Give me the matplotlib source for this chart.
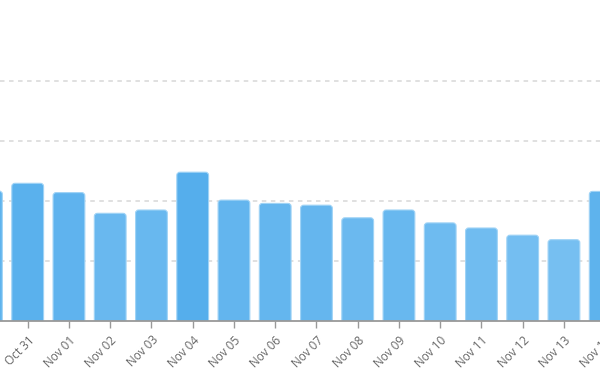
import matplotlib.pyplot as plt
from matplotlib.patches import FancyBboxPatch
from matplotlib.colors import LinearSegmentedColormap, Normalize
from matplotlib.transforms import offset_copy

days = ["Oct 30", "Oct 31", "Nov 01", "Nov 02", "Nov 03", "Nov 04", "Nov 05", "Nov 06",
        "Nov 07", "Nov 08", "Nov 09", "Nov 10", "Nov 11", "Nov 12", "Nov 13", "Nov 14"]
values = [43.3, 45.9, 42.8, 35.9, 37.0, 49.6, 40.3, 39.2,
          38.6, 34.4, 37.0, 32.7, 31.0, 28.6, 27.1, 43.2]
grid_ticks = [20, 40, 60, 80]

plt.rcParams['font.family'] = ['Open Sans', 'DejaVu Sans']

fig = plt.figure(figsize=(6, 3.88), dpi=100)
ax = fig.add_axes([0, 67 / 388, 1, 321 / 388])

# farbe je nach hoehe, hohe balken dunkler
cmap = LinearSegmentedColormap.from_list("blues", ["#76bff1", "#55aeec"])
norm = Normalize(min(values), max(values))

x = list(range(len(days)))
bars = ax.bar(x, values, width=0.77)
for b, v in zip(bars, values):
    b.set_visible(False)
    # etwas unter 0 verlaengern, damit nur die oberen ecken rund sind
    p = FancyBboxPatch((b.get_x(), -2), b.get_width(), b.get_height() + 2,
                       boxstyle="round,pad=0,rounding_size=0.075",
                       mutation_aspect=13.75,
                       facecolor=cmap(norm(v)), edgecolor="#9fd3f6", linewidth=0.8)
    ax.add_patch(p)

ax.set_yticks(grid_ticks)
ax.yaxis.grid(True, color="#dddddd", linewidth=1.3, linestyle=(0, (2.5, 2.5)))
ax.set_axisbelow(True)
ax.tick_params(axis="y", left=False, labelleft=False)

ax.set_xticks(x)
ax.set_xticklabels(days, rotation=45, ha="right", rotation_mode="anchor",
                   fontsize=8.5, color="#666666")
ax.tick_params(axis="x", length=5, width=1, color="#999999", pad=4)

# ausschnitt wie im original (nach set_xticks, sonst wird erweitert)
ax.set_xlim(0.3285, 14.874)
ax.set_ylim(0, 107)

# letztes label liegt ausserhalb, wird im original angeschnitten gezeigt
tr = offset_copy(ax.get_xaxis_transform(), fig=fig, y=-9, units="points")
ax.text(x[-1], 0, days[-1], transform=tr, rotation=45, ha="right", va="top",
        rotation_mode="anchor", fontsize=8.5, color="#666666", clip_on=False)

for s in ["top", "left", "right"]:
    ax.spines[s].set_visible(False)
ax.spines["bottom"].set_color("#999999")
ax.spines["bottom"].set_linewidth(1.3)

fig.savefig("out.png", dpi=100)
